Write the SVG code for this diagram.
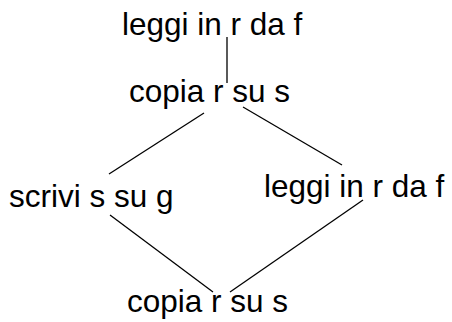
<svg xmlns="http://www.w3.org/2000/svg" width="452" height="322" viewBox="0 0 452 322">
  <style>
    .lbl { font-family: "Liberation Sans", Arial, sans-serif; font-size: 31.5px; fill: #000; }
    .edge { stroke: #000; stroke-width: 1.3; fill: none; }
  </style>
  <rect width="452" height="322" fill="#fff"/>
  <g id="connectors">
    <line class="edge" x1="227" y1="37" x2="227" y2="83"/>
    <line class="edge" x1="204" y1="113" x2="109" y2="174"/>
    <line class="edge" x1="243" y1="107" x2="342" y2="165"/>
    <line class="edge" x1="110" y1="215" x2="213" y2="292"/>
    <line class="edge" x1="363" y1="200" x2="230" y2="292"/>
  </g>
  <g id="read1"><text class="lbl" x="122" y="35">leggi in r da f</text></g>
  <g id="copy1"><text class="lbl" x="129" y="102">copia r su s</text></g>
  <g id="write"><text class="lbl" x="9" y="207">scrivi s su g</text></g>
  <g id="read2"><text class="lbl" x="264" y="197">leggi in r da f</text></g>
  <g id="copy2"><text class="lbl" x="127" y="312">copia r su s</text></g>
</svg>
